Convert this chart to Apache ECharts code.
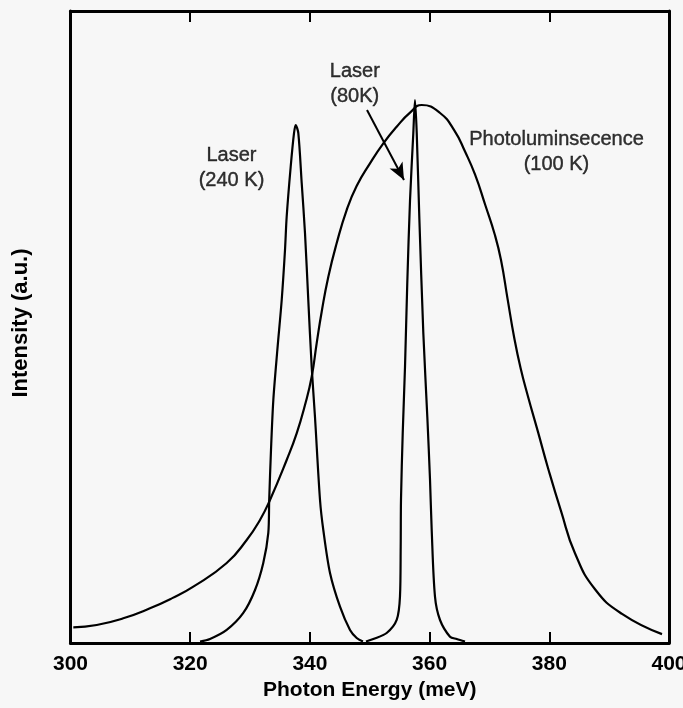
<!DOCTYPE html>
<html>
<head>
<meta charset="utf-8">
<script src="https://cdn.jsdelivr.net/npm/echarts@6/dist/echarts.min.js"></script>
<style>
html,body{margin:0;padding:0;background:#f7f7f7;overflow:hidden;}
#chart{width:683px;height:708px;}
</style>
</head>
<body>
<div id="chart"></div>
<script>
// X axis ticks (meV)
var xTicks = [300, 320, 340, 360, 380, 400];

// Photoluminescence (100 K)
var plEnergy = [300.47,304.38,308.82,313.28,317.00,320.52,326.10,329.44,331.66,333.33,336.12,337.79,339.18,340.30,341.13,341.97,343.08,344.47,346.14,347.81,350.04,352.27,354.50,356.73,358.68,361.70,364.20,365.90,367.60,369.30,370.90,371.93,373.02,374.10,375.20,376.44,378.11,379.78,381.95,384.29,387.64,392.15,398.83];
var plIntensity = [2.48,2.85,3.91,5.49,7.10,8.91,12.66,16.30,19.46,22.63,28.96,33.18,37.66,42.14,47.42,52.42,57.96,63.24,68.51,72.31,75.90,79.07,81.69,83.91,85.13,83.90,81.00,77.80,74.10,69.30,64.60,60.60,54.50,48.50,43.50,39.00,33.40,27.70,20.90,14.20,8.50,4.60,1.40];

// Laser (240 K)
var laser240Energy = [321.64,323.31,326.10,328.87,330.83,332.21,333.05,333.20,333.50,333.89,334.56,335.29,335.84,336.12,336.79,337.34,337.63,338.06,338.63,339.18,339.73,340.30,340.85,341.69,342.24,343.36,345.03,346.70,347.82,348.87];
var laser240Intensity = [0.24,0.63,2.06,4.75,8.39,12.66,17.41,22.63,30.54,38.45,46.36,54.27,62.18,67.45,75.36,80.65,81.96,80.70,72.78,64.87,54.27,43.67,35.76,22.63,17.88,11.08,5.74,2.06,0.79,0.24];

// Laser (80 K)
var laser80Energy = [349.37,350.59,352.83,354.50,355.05,355.17,355.22,355.51,355.89,356.27,356.73,357.28,357.56,357.85,358.28,358.95,359.62,360.07,360.35,360.90,361.74,363.41,364.53,365.92];
var laser80Intensity = [0.24,0.63,1.58,3.64,7.33,15.24,22.63,33.23,43.67,56.96,70.09,80.70,85.92,80.70,67.41,49.05,35.76,25.79,17.88,7.33,3.64,1.00,0.63,0.24];

// Annotations
var noteTexts = ['Laser\n(240 K)', 'Laser\n(80K)', 'Photoluminsecence\n(100 K)'];
var noteEnergy = [326.9, 347.5, 381.2];
var noteIntensity = [75.2, 88.4, 77.7];
var arrowFrom = [349.54, 84.34];
var arrowTo = [355.72, 73.26];

function zip(a, b) { return a.map(function (v, i) { return [v, b[i]]; }); }

var FONT = '"Liberation Sans", Arial, Helvetica, sans-serif';
var chart = echarts.init(document.getElementById('chart'), null, {renderer: 'canvas'});

var lineStyle = {color: '#000', width: 2.2};
function curve(name, e, v, s) {
  return {
    name: name, type: 'line', data: zip(e, v), xAxisIndex: 0, yAxisIndex: 0,
    showSymbol: false, symbol: 'none', smooth: s,
    lineStyle: lineStyle, silent: true, z: 3
  };
}

var option = {
  backgroundColor: '#f7f7f7',
  animation: false,
  grid: {left: 70.5, right: 14, top: 11, bottom: 65, containLabel: false, outerBoundsMode: 'none'},
  xAxis: [{
    type: 'value', min: 300, max: 400, interval: 20, position: 'bottom',
    axisLine: {show: true, onZero: false, lineStyle: {color: '#000', width: 3}},
    axisTick: {show: true, inside: true, length: 11, lineStyle: {color: '#000', width: 2}},
    axisLabel: {show: true, margin: 11, color: '#000', fontFamily: FONT, fontWeight: 'bold', fontSize: 21, showMinLabel: true, showMaxLabel: true},
    splitLine: {show: false},
    name: 'Photon Energy (meV)', nameLocation: 'middle', nameGap: 36,
    nameTextStyle: {color: '#000', fontFamily: FONT, fontWeight: 'bold', fontSize: 21}
  }, {
    type: 'value', min: 300, max: 400, interval: 20, position: 'top',
    axisLine: {show: true, onZero: false, lineStyle: {color: '#000', width: 3}},
    axisTick: {show: true, inside: true, length: 11, lineStyle: {color: '#000', width: 2}},
    axisLabel: {show: false}, splitLine: {show: false}
  }],
  yAxis: [{
    type: 'value', min: 0, max: 100, position: 'left',
    axisLine: {show: true, onZero: false, lineStyle: {color: '#000', width: 3}},
    axisTick: {show: false}, axisLabel: {show: false}, splitLine: {show: false},
    name: 'Intensity (a.u.)', nameLocation: 'middle', nameGap: 39, nameRotate: 90,
    nameTextStyle: {color: '#000', fontFamily: FONT, fontWeight: 'bold', fontSize: 22, padding: [0, 0, 0, 8]}
  }, {
    type: 'value', min: 0, max: 100, position: 'right',
    axisLine: {show: true, onZero: false, lineStyle: {color: '#000', width: 3}},
    axisTick: {show: false}, axisLabel: {show: false}, splitLine: {show: false}
  }],
  series: [
    curve('Photoluminescence (100 K)', plEnergy, plIntensity, 0.5),
    curve('Laser (240 K)', laser240Energy, laser240Intensity, 0.3),
    curve('Laser (80 K)', laser80Energy, laser80Intensity, 0.3),
    {
      type: 'scatter', silent: true, symbolSize: 1, itemStyle: {color: 'rgba(0,0,0,0)'},
      data: noteEnergy.map(function (e, i) { return {value: [e, noteIntensity[i]], name: noteTexts[i]}; }),
      label: {
        show: true, position: 'inside', formatter: function (p) { return p.name; },
        color: '#000', fontFamily: FONT, fontSize: 20, lineHeight: 25, align: 'center', verticalAlign: 'middle',
        textBorderColor: '#000', textBorderWidth: 0.4
      },
      labelLayout: {hideOverlap: false},
      markLine: {
        silent: true, symbol: ['none', 'arrow'], symbolSize: [11, 17],
        lineStyle: {color: '#000', width: 2, type: 'solid'}, label: {show: false},
        data: [[{coord: arrowFrom}, {coord: arrowTo}]]
      },
      z: 5
    }
  ]
};
chart.setOption(option);
</script>
</body>
</html>
